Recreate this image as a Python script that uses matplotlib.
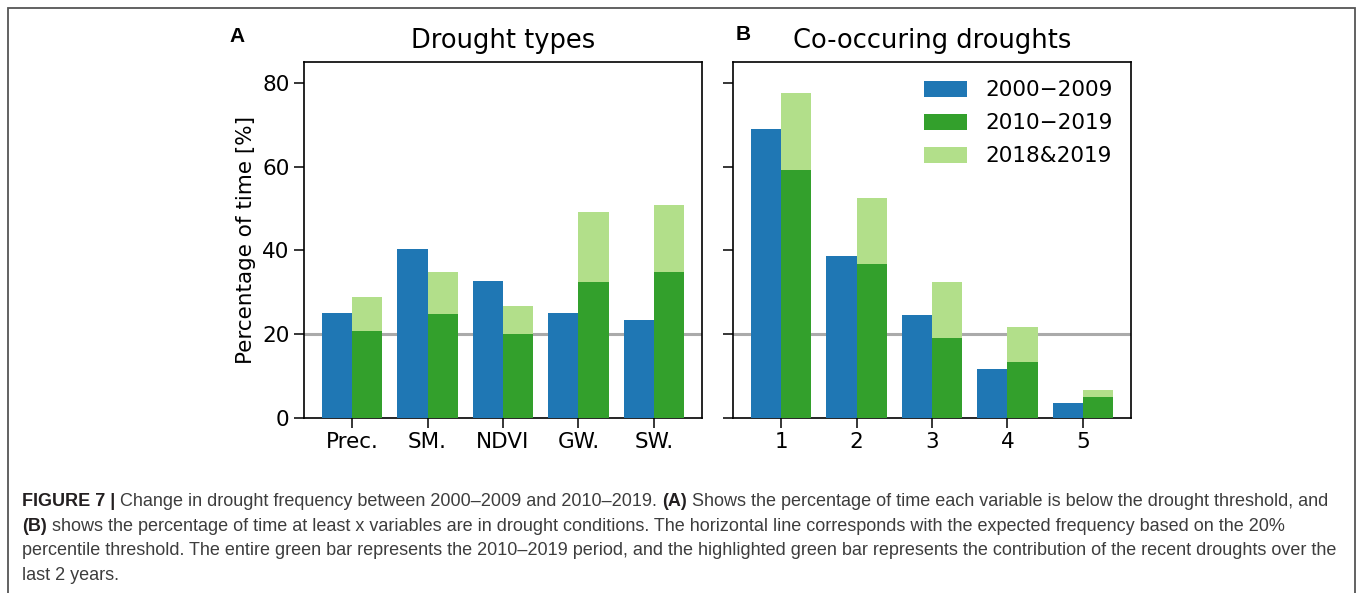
import matplotlib
matplotlib.use("Agg")
import matplotlib.pyplot as plt
from matplotlib.transforms import IdentityTransform
from matplotlib.patches import Rectangle
import numpy as np

# panel A: drought types
types = ["Prec.", "SM.", "NDVI", "GW.", "SW."]
types_0009 = [25.1, 40.2, 32.6, 25.1, 23.4]
types_1019 = [20.7, 24.8, 19.9, 32.3, 34.9]
types_1819 = [28.9, 34.9, 26.6, 49.1, 50.8]

# panel B: number of co-occuring droughts
counts = ["1", "2", "3", "4", "5"]
co_0009 = [68.9, 38.6, 24.4, 11.7, 3.4]
co_1019 = [59.1, 36.6, 19.1, 13.3, 5.0]
co_1819 = [77.6, 52.5, 32.5, 21.7, 6.6]

labels = ["2000\u22122009", "2010\u22122019", "2018&2019"]
colors = ["#1f77b4", "#33a02c", "#b2df8a"]

W, H = 1360, 593
fig = plt.figure(figsize=(W / 100, H / 100), dpi=100)

axA = fig.add_axes([304 / W, 1 - 417.5 / H, 398 / W, 355.5 / H])
axB = fig.add_axes([733 / W, 1 - 417.5 / H, 398 / W, 355.5 / H], sharey=axA)


def draw_panel(ax, cats, old, base, top):
    x = np.arange(len(cats))
    w = 0.4
    ax.axhline(20, color="#aaaaaa", lw=2.2, zorder=0)
    # highlighted part first, full 2010-2019 base drawn on top
    ax.bar(x + w / 2, top, w, color=colors[2], label=labels[2], zorder=2)
    ax.bar(x - w / 2, old, w, color=colors[0], label=labels[0], zorder=3)
    ax.bar(x + w / 2, base, w, color=colors[1], label=labels[1], zorder=3)
    ax.set_xticks(x)
    ax.set_xticklabels(cats)
    ax.tick_params(labelsize=15.5, length=7, width=1.1)
    for s in ax.spines.values():
        s.set_linewidth(1.2)


draw_panel(axA, types, types_0009, types_1019, types_1819)
draw_panel(axB, counts, co_0009, co_1019, co_1819)

axA.set_ylim(0, 85)
axA.set_yticks([0, 20, 40, 60, 80])
axA.set_ylabel("Percentage of time [%]", fontsize=15.5)
axB.tick_params(labelleft=False)

axA.set_title("Drought types", fontsize=18.5, pad=10)
axB.set_title("Co-occuring droughts", fontsize=18.5, pad=10)

h, l = axB.get_legend_handles_labels()
order = [1, 2, 0]
axB.legend([h[i] for i in order], [l[i] for i in order], loc="upper right",
           frameon=False, fontsize=15.5, handlelength=2.0, handleheight=0.75,
           labelspacing=0.6, handletextpad=0.85, borderaxespad=0.45)

fig.text(237 / W, 1 - 36 / H, "A", fontsize=15, fontweight="bold",
         family="Liberation Sans", ha="center", va="center")
fig.text(743 / W, 1 - 35 / H, "B", fontsize=15, fontweight="bold",
         family="Liberation Sans", ha="center", va="center")

# outer frame of the figure box
fig.add_artist(Rectangle((8, -5), 1347, H - 8 + 5, transform=IdentityTransform(),
                         fill=False, edgecolor="#555555", lw=1.3))

# caption with bold pieces
cap_size = 12.95
renderer = fig.canvas.get_renderer()


def seg_width(s, weight):
    t1 = fig.text(0, 0, "|" + s + "|", fontsize=cap_size, fontweight=weight,
                  family="Liberation Sans")
    t2 = fig.text(0, 0, "||", fontsize=cap_size, fontweight=weight,
                  family="Liberation Sans")
    wdt = t1.get_window_extent(renderer).width - t2.get_window_extent(renderer).width
    t1.remove()
    t2.remove()
    return wdt


def rich_line(x, y, parts):
    for s, weight in parts:
        col = "#231f20" if weight == "bold" else "#3d3d3d"
        fig.text(x, H - y, s, fontsize=cap_size, fontweight=weight,
                 family="Liberation Sans", color=col, va="baseline",
                 transform=IdentityTransform())
        x += seg_width(s, weight)


cap_lines = [
    [("FIGURE 7 |", "bold"),
     (" Change in drought frequency between 2000\u20132009 and 2010\u20132019. ", "normal"),
     ("(A)", "bold"),
     (" Shows the percentage of time each variable is below the drought threshold, and", "normal")],
    [("(B)", "bold"),
     (" shows the percentage of time at least x variables are in drought conditions. "
      "The horizontal line corresponds with the expected frequency based on the 20%", "normal")],
    [("percentile threshold. The entire green bar represents the 2010\u20132019 period, and the "
      "highlighted green bar represents the contribution of the recent droughts over the", "normal")],
    [("last 2 years.", "normal")],
]
for yy, parts in zip([506, 530.7, 555.4, 580], cap_lines):
    rich_line(22, yy, parts)

fig.savefig("out.png", dpi=100)
